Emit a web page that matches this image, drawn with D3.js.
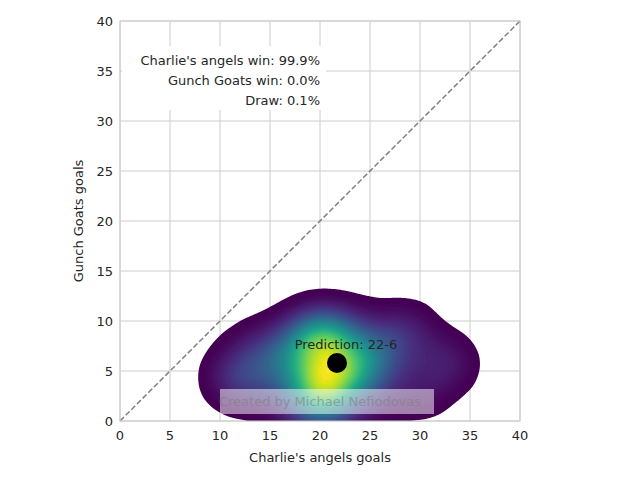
<!DOCTYPE html>
<html><head><meta charset="utf-8">
<script src="https://cdn.jsdelivr.net/npm/d3@7"></script>
<style>body{margin:0;background:#fff;font-family:"DejaVu Sans",sans-serif;}</style>
</head><body>
<div class="chart"></div>
<script>
// DATA
const HOME_GOALS = [20,21,19,22,18,23,20,17,24,21,19,25,16,22,20,18,26,15,23,21,
  27,14,20,22,19,28,13,24,18,21,30,12,25,17,22,20,32,11,26,19,
  23,16,29,21,33,18,24,14,27,20,31,12,34,10,29];
const AWAY_GOALS = [5,4,6,5,3,6,4,7,5,2,8,4,5,8,3,6,7,4,9,1,
  5,6,9,7,2,8,3,10,9,7,4,7,6,1,3,9,6,5,8,10,
  1,8,9,10,7,2,3,8,2,0,2,3,5,4,10];
const PREDICTION = [21.7, 5.8];
const PRED_LABEL = "Prediction: 22-6";
const RESULT_LINES = ["Charlie's angels win: 99.9%", "Gunch Goats win: 0.0%", "Draw: 0.1%"];
const TICKS = [0,5,10,15,20,25,30,35,40];

const MARGINS = {left: 120, top: 21};
const GRAPH = 400;

const svg = d3.select(".chart").append("svg").attr("width", 640).attr("height", 480);
const X = d3.scaleLinear().domain([0,40]).range([0, GRAPH]);
const Y = d3.scaleLinear().domain([0,40]).range([GRAPH, 0]);
const g = svg.append("g").attr("transform", `translate(${MARGINS.left},${MARGINS.top})`);

// grid
g.selectAll(".gx").data(TICKS).enter().append("line")
  .attr("x1", d => X(d)).attr("x2", d => X(d)).attr("y1", 0).attr("y2", GRAPH)
  .attr("stroke", "#cccccc");
g.selectAll(".gy").data(TICKS).enter().append("line")
  .attr("y1", d => Y(d)).attr("y2", d => Y(d)).attr("x1", 0).attr("x2", GRAPH)
  .attr("stroke", "#cccccc");

// density
svg.append("clipPath").attr("id", "clip").append("rect").attr("width", GRAPH).attr("height", GRAPH);
const pts = HOME_GOALS.map((h, i) => [X(h), Y(AWAY_GOALS[i])]);
const contours = d3.contourDensity().x(d => d[0]).y(d => d[1])
  .size([GRAPH, GRAPH]).cellSize(2).bandwidth(20).thresholds(60)(pts);
const maxV = d3.max(contours, d => d.value);
const floor = maxV * 0.1;
const kept = contours.filter(d => d.value >= floor);
const color = v => d3.interpolateViridis(Math.pow((v - floor) / (maxV - floor), 1.6));
g.append("g").attr("clip-path", "url(#clip)").selectAll("path").data(kept).enter().append("path")
  .attr("d", d3.geoPath()).attr("fill", d => color(d.value));

// diagonal
g.append("line").attr("x1", X(0)).attr("y1", Y(0)).attr("x2", X(40)).attr("y2", Y(40))
  .attr("stroke", "#808080").attr("stroke-width", 1.5).attr("stroke-dasharray", "5.5,2.5");

// frame
g.append("rect").attr("width", GRAPH).attr("height", GRAPH).attr("fill", "none").attr("stroke", "#cccccc");

// axes labels
g.selectAll(".tx").data(TICKS).enter().append("text")
  .attr("x", d => X(d)).attr("y", GRAPH + 19).attr("text-anchor", "middle")
  .attr("font-size", 13).attr("fill", "#262626").text(d => d);
g.selectAll(".ty").data(TICKS).enter().append("text")
  .attr("x", -7).attr("y", d => Y(d) + 5).attr("text-anchor", "end")
  .attr("font-size", 13).attr("fill", "#262626").text(d => d);
svg.append("text").attr("x", 320).attr("y", 462).attr("text-anchor", "middle")
  .attr("font-size", 13).attr("fill", "#262626").text("Charlie's angels goals");
svg.append("text").attr("transform", "translate(83,221) rotate(-90)").attr("text-anchor", "middle")
  .attr("font-size", 13).attr("fill", "#262626").text("Gunch Goats goals");

// prediction
g.append("circle").attr("cx", X(PREDICTION[0])).attr("cy", Y(PREDICTION[1])).attr("r", 10).attr("fill", "#000");
g.append("text").attr("x", X(22.6)).attr("y", Y(7.2)).attr("text-anchor", "middle")
  .attr("font-size", 13).attr("fill", "#262626").text(PRED_LABEL);

// result box
g.append("rect").attr("x", 2).attr("y", 25).attr("width", 204).attr("height", 64).attr("fill", "#fff");
g.selectAll(".res").data(RESULT_LINES).enter().append("text")
  .attr("x", 200).attr("y", (d, i) => 44 + i * 20).attr("text-anchor", "end")
  .attr("font-size", 13).attr("fill", "#262626").text(d => d);

// watermark
svg.append("rect").attr("x", 220).attr("y", 389).attr("width", 214).attr("height", 25)
  .attr("fill", "#fff").attr("opacity", 0.5);
svg.append("text").attr("x", 320).attr("y", 406).attr("text-anchor", "middle")
  .attr("font-size", 13).attr("fill", "#808080").attr("opacity", 0.6).text("Created by Michael Nefiodovas");
</script>
</body></html>
